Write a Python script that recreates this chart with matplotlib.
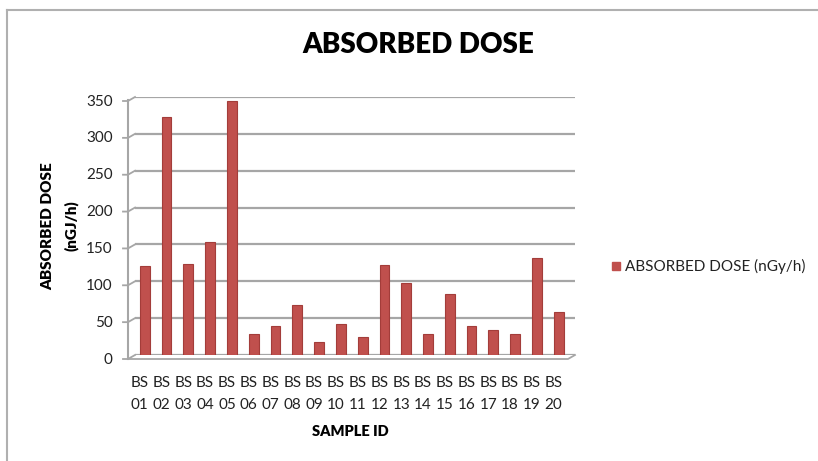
import matplotlib
matplotlib.use("Agg")
import matplotlib.pyplot as plt
from matplotlib.lines import Line2D
from matplotlib.patches import Rectangle
import matplotlib.transforms as mtransforms

samples = ["BS\n01", "BS\n02", "BS\n03", "BS\n04", "BS\n05", "BS\n06", "BS\n07", "BS\n08", "BS\n09", "BS\n10",
           "BS\n11", "BS\n12", "BS\n13", "BS\n14", "BS\n15", "BS\n16", "BS\n17", "BS\n18", "BS\n19", "BS\n20"]
dose = [121, 323, 123, 153, 345, 28, 40, 68, 18, 42, 24, 122, 97, 29, 83, 40, 34, 29, 132, 59]
yticks = [0, 50, 100, 150, 200, 250, 300, 350]

plt.rcParams['font.family'] = ['Lato', 'DejaVu Sans']

W, H = 818, 461
fig = plt.figure(figsize=(W / 100, H / 100), dpi=100)

def fx(px):
    return px / W

def fy(py):
    return 1 - py / H

# outer frame
fig.add_artist(Line2D([fx(7), fx(7)], [fy(10), 0], color='#B0B0B0', lw=1.5))
fig.add_artist(Line2D([fx(7), 1], [fy(10), fy(10)], color='#B0B0B0', lw=1.5))

left, right, top, bottom = 135, 575, 97, 355
ax = fig.add_axes([fx(left), fy(bottom), fx(right - left), (bottom - top) / H])
ax.set_ylim(0, 350)
ax.set_xlim(-0.45, 19.75)

for v in yticks:
    ax.axhline(v, color='#A6A6A6', lw=1.6, zorder=1)

x = list(range(len(dose)))
ax.bar(x, dose, width=0.45, color='#C0504D', edgecolor='#A33D3A', linewidth=0.8, zorder=3,
       label='ABSORBED DOSE (nGy/h)')

for s in ax.spines.values():
    s.set_visible(False)
ax.tick_params(axis='both', length=0)
ax.set_yticks(yticks)
ax.set_yticklabels([str(v) for v in yticks], fontsize=11, color='#222222')
ax.tick_params(axis='y', pad=16)
ax.set_xticks(x)
ax.set_xticklabels(samples, fontsize=11, color='#222222', linespacing=1.7)
ax.tick_params(axis='x', pad=15)
offset = mtransforms.ScaledTranslation(-5 / 100, 0, fig.dpi_scale_trans)
for lab in ax.get_xticklabels():
    lab.set_transform(lab.get_transform() + offset)
yoff = mtransforms.ScaledTranslation(0, -3 / 100, fig.dpi_scale_trans)
for lab in ax.get_yticklabels():
    lab.set_transform(lab.get_transform() + yoff)

# pseudo-3D left wall and floor
fig.add_artist(Line2D([fx(128), fx(128)], [fy(top + 3), fy(bottom + 4)], color='#A6A6A6', lw=1.5))
for v in yticks:
    py = bottom - (bottom - top) * v / 350
    fig.add_artist(Line2D([fx(123), fx(128), fx(left)], [fy(py + 4), fy(py + 4), fy(py)],
                          color='#A6A6A6', lw=1.3))
fig.add_artist(Line2D([fx(128), fx(568), fx(right)], [fy(bottom + 4), fy(bottom + 4), fy(bottom)],
                      color='#A6A6A6', lw=1.3))

fig.text(fx(418), fy(45), 'ABSORBED DOSE', fontsize=20, fontweight='heavy', ha='center', va='center')
fig.text(fx(60), fy(226), 'ABSORBED DOSE\n(nGJ/h)', fontsize=11, fontweight='heavy', rotation=90,
         ha='center', va='center', linespacing=1.75)
fig.text(fx(350), fy(431), 'SAMPLE ID', fontsize=10.5, fontweight='heavy', ha='center', va='center')

fig.add_artist(Rectangle((fx(612), fy(270)), fx(8), 8 / H, color='#C0504D'))
fig.text(fx(625), fy(266), 'ABSORBED DOSE (nGy/h)', fontsize=11, ha='left', va='center', color='#222222')

fig.savefig('out.png', dpi=100)
